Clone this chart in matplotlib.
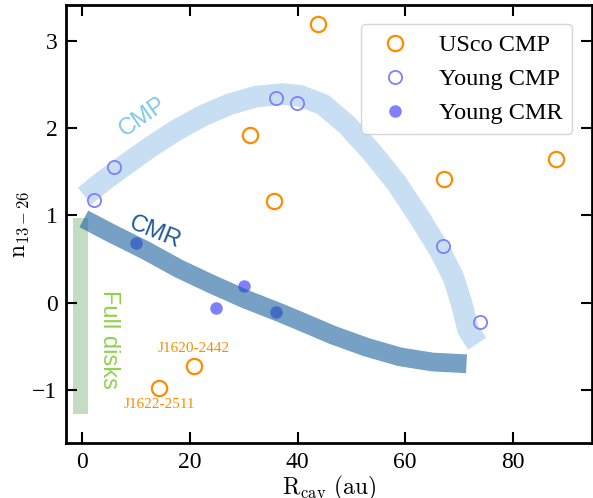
import numpy as np
import matplotlib
matplotlib.use('Agg')
import matplotlib.pyplot as plt

plt.rcParams['font.family'] = ['Liberation Serif', 'DejaVu Serif']
plt.rcParams['mathtext.fontset'] = 'cm'

#Data
usco_r = [43.7, 31.1, 35.7, 67.2, 88.0, 20.7, 14.3]
usco_n = [3.19, 1.92, 1.16, 1.42, 1.64, -0.73, -0.98]

ycmp_r = [2.2, 5.8, 35.9, 39.8, 67.0, 73.9]
ycmp_n = [1.18, 1.55, 2.35, 2.29, 0.65, -0.22]

ycmr_r = [9.9, 24.9, 30.0, 35.9]
ycmr_n = [0.68, -0.06, 0.19, -0.11]

#Trend bands (centre lines)
cmp_band_r = [0.4, 4.0, 8.0, 12.3, 17.3, 22.3, 27.2, 32.2, 37.2, 40.4, 44.7, 49.1, 53.7,
              58.4, 62.7, 66.4, 68.9, 70.5, 71.7, 73.4]
cmp_band_n = [1.22, 1.40, 1.58, 1.77, 1.97, 2.14, 2.27, 2.36, 2.39, 2.37, 2.27, 2.04, 1.73,
              1.37, 0.97, 0.60, 0.30, -0.01, -0.31, -0.47]

cmr_band_r = [0.25, 5.5, 11.7, 17.9, 24.1, 30.3, 36.5, 40.4, 46.5, 52.8, 59.0, 65.1, 71.4]
cmr_band_n = [0.96, 0.79, 0.60, 0.39, 0.21, 0.04, -0.11, -0.21, -0.37, -0.51, -0.62, -0.68, -0.70]

full_disk_r = [-1.7, 1.1]
full_disk_n = [-1.28, 0.97]

labels = ['J1620-2442', 'J1622-2511']
label_pos = [(20.6, -0.52), (14.3, -1.17)]

fig = plt.figure(figsize=(5.93, 4.98), dpi=100)
ax = fig.add_axes([0.111, 0.110, 0.887, 0.880])

ax.fill_between(full_disk_r, full_disk_n[0], full_disk_n[1], color='darkgreen', alpha=0.23, lw=0, zorder=1)
ax.plot(cmp_band_r, cmp_band_n, color='#c8def2', lw=15.5, solid_capstyle='butt', solid_joinstyle='round', zorder=2)
ax.plot(ycmr_r, ycmr_n, 'o', color='#8080ff', ms=8, ls='none', zorder=2.5, label='_nolegend_')
ax.plot(cmr_band_r, cmr_band_n, color='#1b619d', alpha=0.6, lw=13.5, solid_capstyle='butt', solid_joinstyle='round', zorder=3)

ax.plot(usco_r, usco_n, 'o', mfc='none', mec='darkorange', mew=1.6, ms=11, ls='none', zorder=5, label='USco CMP')
ax.plot(ycmp_r, ycmp_n, 'o', mfc='none', mec='#8080ff', mew=1.3, ms=9.5, ls='none', zorder=5, label='Young CMP')
ax.plot([], [], 'o', color='#8080ff', ms=8, ls='none', label='Young CMR')

ax.text(11.2, 2.13, 'CMP', color='#80c8ea', fontsize=17, family='Liberation Sans', rotation=35, ha='center', va='center')
ax.text(13.4, 0.80, 'CMR', color='#1f5a96', fontsize=17, family='Liberation Sans', rotation=-22, ha='center', va='center')
ax.text(5.0, -0.42, 'Full disks', color='#8fd24f', fontsize=17, family='Liberation Sans', rotation=-90, ha='center', va='center')
for lab, pos in zip(labels, label_pos):
    ax.text(pos[0], pos[1], lab, color='darkorange', fontsize=11, ha='center', va='center')

ax.set_xlim(-3.1, 94.7)
ax.set_ylim(-1.61, 3.41)
ax.set_xticks([0, 20, 40, 60, 80])
ax.set_yticks([-1, 0, 1, 2, 3])
ax.tick_params(direction='in', length=8, width=1.5, top=True, right=True, labelsize=17, pad=6)
for s in ax.spines.values():
    s.set_linewidth(2)

ax.set_xlabel(r'$\mathrm{R_{cav}\ (au)}$', fontsize=17, labelpad=1)
ax.set_ylabel(r'$\mathrm{n_{13-26}}$', fontsize=17, labelpad=1)

ax.legend(loc='upper right', numpoints=1, fontsize=17.5, framealpha=0.8, borderaxespad=0.8)

fig.savefig('out.png', dpi=100)
